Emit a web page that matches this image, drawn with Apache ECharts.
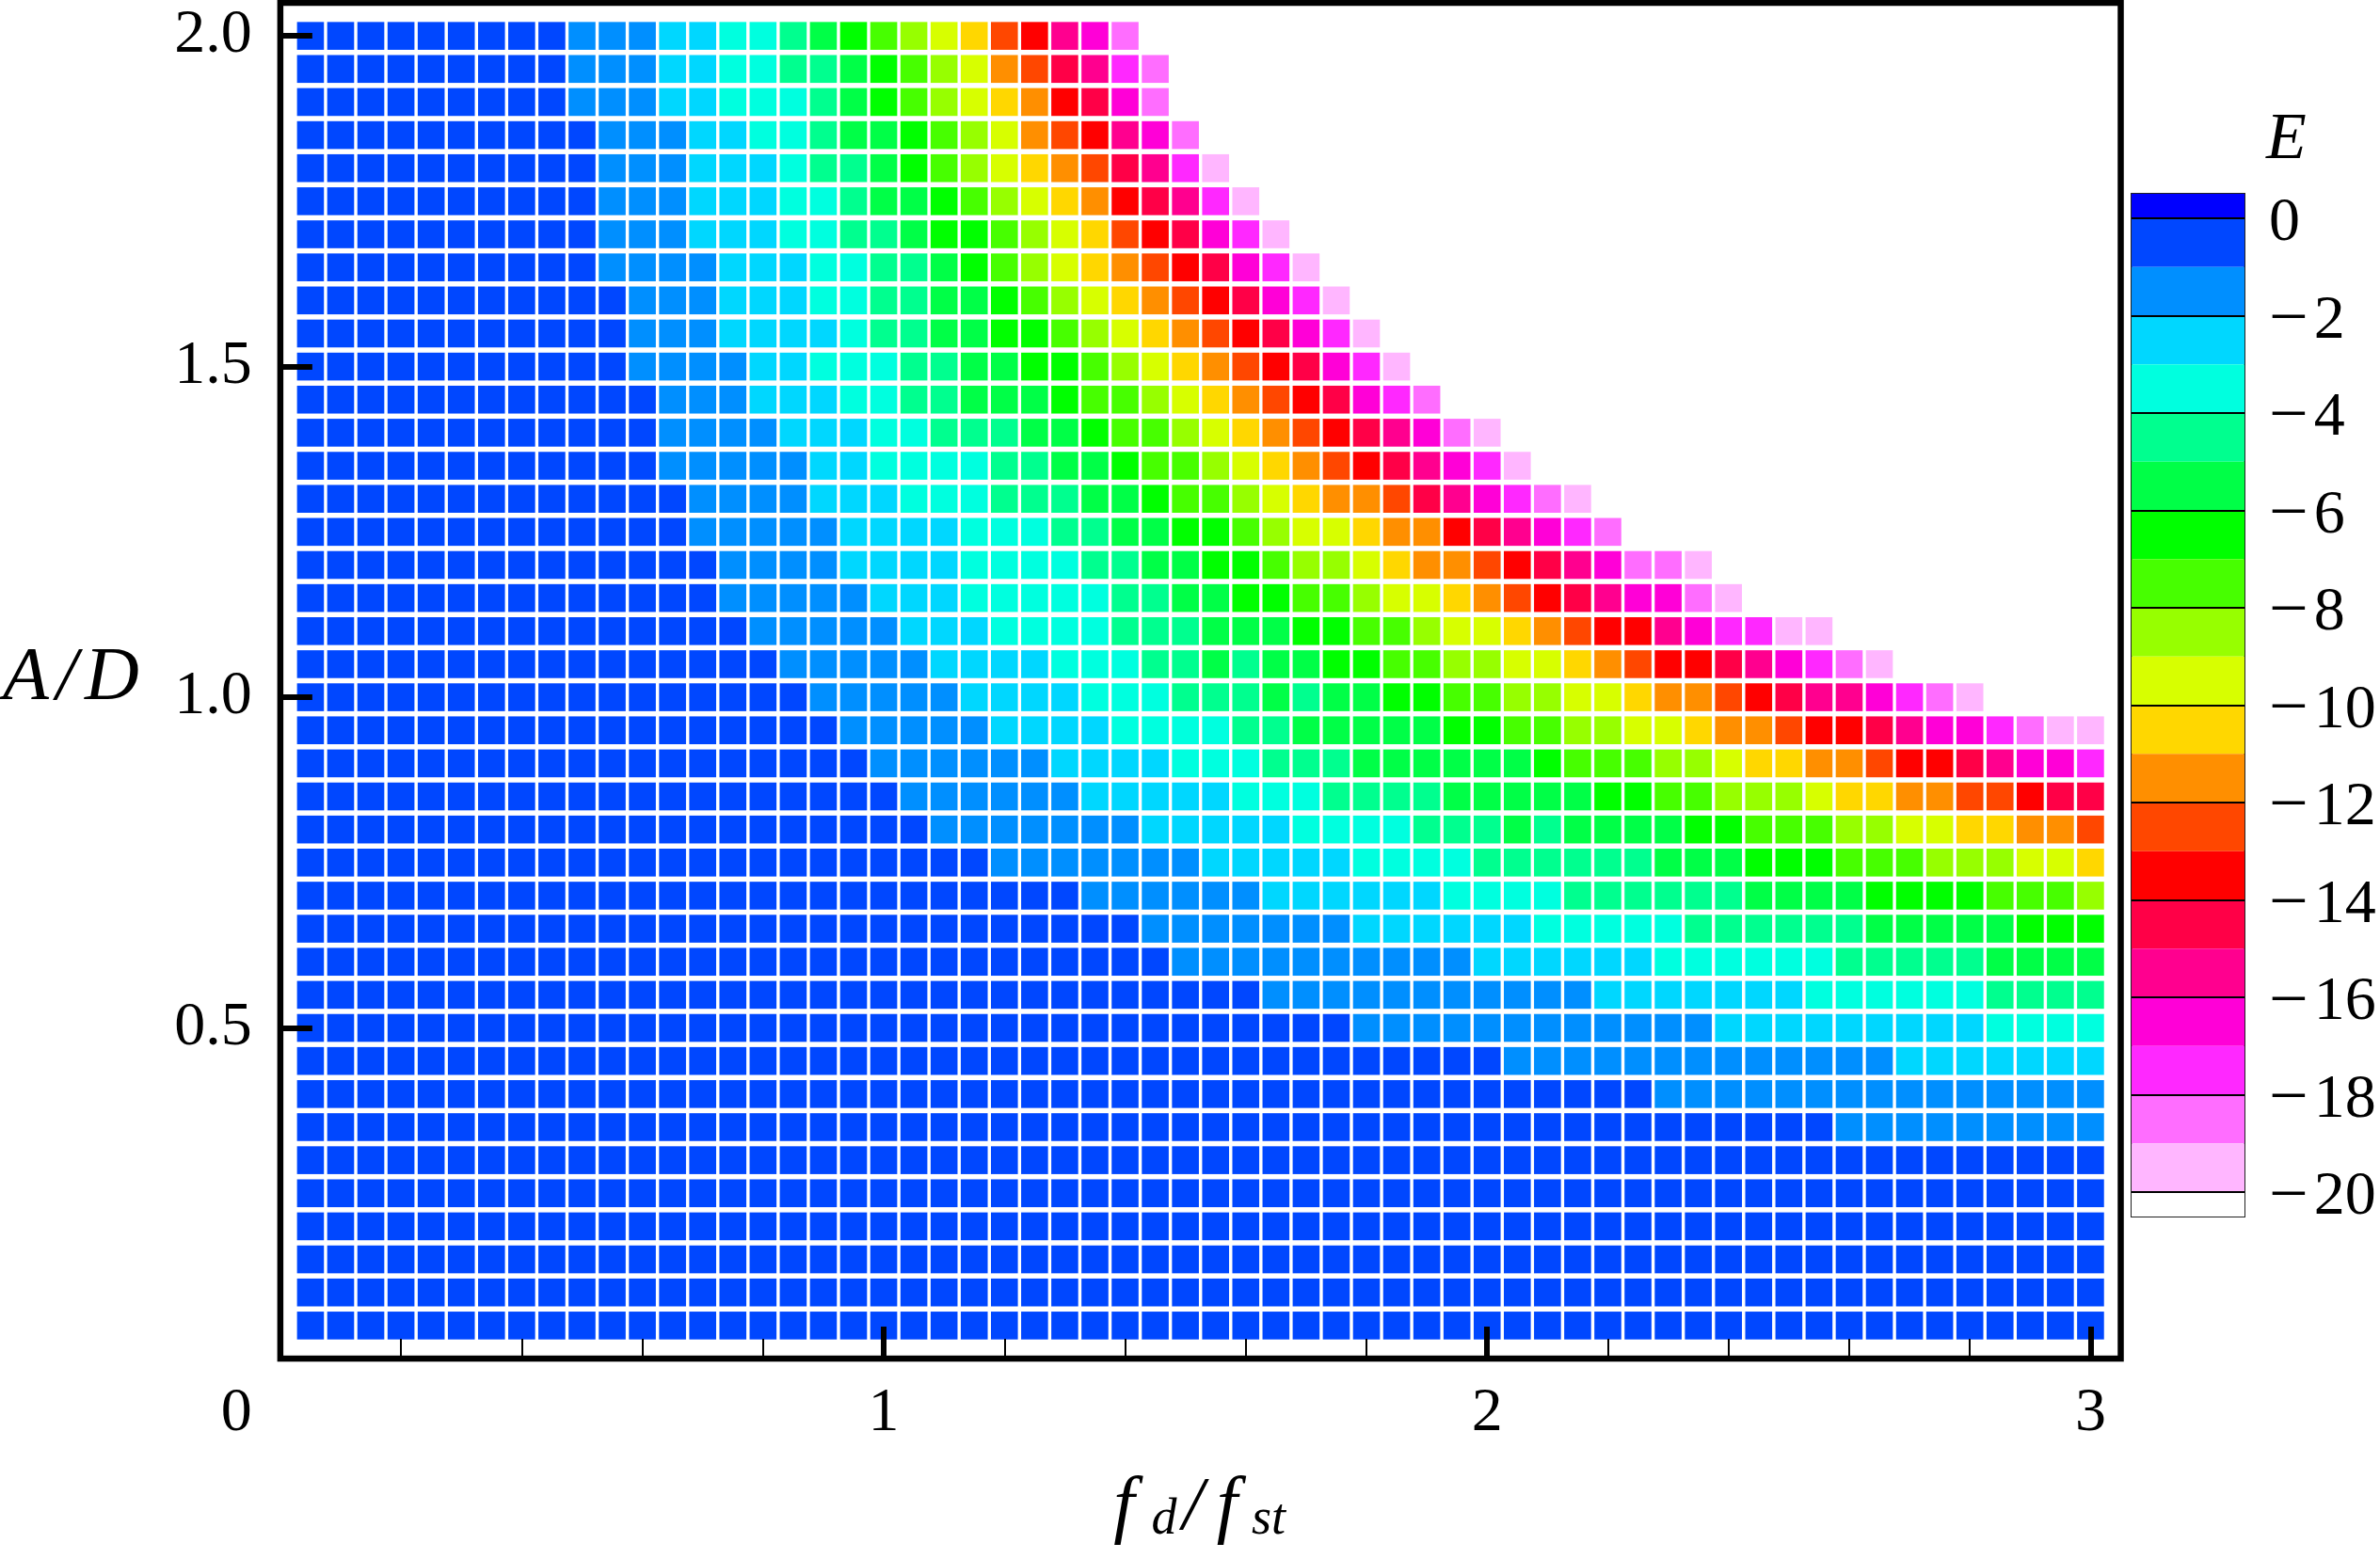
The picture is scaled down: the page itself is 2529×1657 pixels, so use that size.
<!DOCTYPE html>
<html>
<head>
<meta charset="utf-8">
<title>E over f_d/f_st and A/D</title>
<style>html,body{margin:0;padding:0;background:#fff}#chart{width:2529px;height:1657px}</style>
<script src="https://cdn.jsdelivr.net/npm/echarts@6/dist/echarts.min.js"></script>
</head>
<body>
<div id="chart"></div>
<script>
// Frequency ratio at each column of the map
const fdValues = [0.05,0.10,0.15,0.20,0.25,0.30,0.35,0.40,0.45,0.50,0.55,0.60,0.65,0.70,0.75,0.80,0.85,0.90,0.95,1.00,
1.05,1.10,1.15,1.20,1.25,1.30,1.35,1.40,1.45,1.50,1.55,1.60,1.65,1.70,1.75,1.80,1.85,1.90,1.95,2.00,
2.05,2.10,2.15,2.20,2.25,2.30,2.35,2.40,2.45,2.50,2.55,2.60,2.65,2.70,2.75,2.80,2.85,2.90,2.95,3.00];

// Amplitude ratio of each row, from top to bottom
const adValues = [2.00,1.95,1.90,1.85,1.80,1.75,1.70,1.65,1.60,1.55,1.50,1.45,1.40,1.35,1.30,1.25,1.20,1.15,1.10,1.05,
1.00,0.95,0.90,0.85,0.80,0.75,0.70,0.65,0.60,0.55,0.50,0.45,0.40,0.35,0.30,0.25,0.20,0.15,0.10,0.05];

// For each A/D, the colour band n of each cell (E lies between -n and -n+1)
const r200 = [1,1,1,1,1,1,1,1,1,2,2,2,3,3,4,4,5,6,7,8,9,10,11,13,14,16,17,19];
const r195 = [1,1,1,1,1,1,1,1,1,2,2,2,3,3,4,4,5,5,6,7,8,9,10,12,13,15,16,18,19];
const r190 = [1,1,1,1,1,1,1,1,1,2,2,2,3,3,4,4,4,5,6,7,8,9,10,11,12,14,15,17,19];
const r185 = [1,1,1,1,1,1,1,1,1,1,2,2,2,3,3,4,4,5,6,6,7,8,9,10,12,13,14,16,17,19];
const r180 = [1,1,1,1,1,1,1,1,1,1,2,2,2,3,3,3,4,5,5,6,7,8,9,10,11,12,13,15,16,18,20];
const r175 = [1,1,1,1,1,1,1,1,1,1,2,2,2,3,3,3,4,4,5,6,6,7,8,9,10,11,12,14,15,16,18,20];
const r170 = [1,1,1,1,1,1,1,1,1,1,2,2,2,3,3,3,4,4,5,5,6,7,7,8,9,10,11,13,14,15,17,18,20];
const r165 = [1,1,1,1,1,1,1,1,1,1,2,2,2,2,3,3,3,4,4,5,5,6,7,8,9,10,11,12,13,14,15,17,18,20];
const r160 = [1,1,1,1,1,1,1,1,1,1,1,2,2,2,3,3,3,4,4,5,5,6,6,7,8,9,10,11,12,13,14,15,17,18,20];
const r155 = [1,1,1,1,1,1,1,1,1,1,1,2,2,2,3,3,3,3,4,5,5,6,6,7,7,8,9,10,11,12,13,14,15,17,18,20];
const r150 = [1,1,1,1,1,1,1,1,1,1,1,2,2,2,2,3,3,4,4,4,5,5,6,6,7,7,8,9,10,11,12,13,14,15,17,18,20];
const r145 = [1,1,1,1,1,1,1,1,1,1,1,1,2,2,2,3,3,3,4,4,5,5,6,6,6,7,8,8,9,10,11,12,13,14,15,17,18,19];
const r140 = [1,1,1,1,1,1,1,1,1,1,1,1,2,2,2,2,3,3,3,4,4,5,5,5,6,6,7,8,8,9,10,11,12,13,14,15,16,17,19,20];
const r135 = [1,1,1,1,1,1,1,1,1,1,1,1,2,2,2,2,2,3,3,4,4,4,4,5,5,6,6,7,8,8,9,10,11,12,13,14,15,16,17,18,20];
const r130 = [1,1,1,1,1,1,1,1,1,1,1,1,1,2,2,2,2,3,3,3,4,4,4,5,5,5,6,6,7,8,8,9,10,11,12,12,13,15,16,17,18,19,20];
const r125 = [1,1,1,1,1,1,1,1,1,1,1,1,1,2,2,2,2,2,3,3,3,3,4,4,4,5,5,6,6,7,7,8,9,10,10,11,12,12,14,15,16,17,18,19];
const r120 = [1,1,1,1,1,1,1,1,1,1,1,1,1,1,2,2,2,2,3,3,3,3,4,4,4,4,5,5,6,6,7,7,8,9,9,10,11,12,12,13,14,15,16,17,19,19,20];
const r115 = [1,1,1,1,1,1,1,1,1,1,1,1,1,1,2,2,2,2,2,3,3,3,4,4,4,4,4,5,5,6,6,7,7,8,8,9,10,10,11,12,13,14,15,16,17,17,19,20];
const r110 = [1,1,1,1,1,1,1,1,1,1,1,1,1,1,1,2,2,2,2,2,3,3,3,4,4,4,4,5,5,5,6,6,6,7,7,8,8,9,10,10,11,12,13,14,14,16,17,18,18,20,20];
const r105 = [1,1,1,1,1,1,1,1,1,1,1,1,1,1,1,1,2,2,2,2,2,3,3,3,3,4,4,4,5,5,6,5,6,6,7,7,8,8,9,9,10,10,11,12,13,14,14,15,16,17,18,19,20];
const r100 = [1,1,1,1,1,1,1,1,1,1,1,1,1,1,1,1,1,2,2,2,2,2,3,3,3,3,4,4,4,5,5,5,6,5,6,6,7,7,8,8,9,9,10,10,11,12,12,13,14,15,16,16,17,18,19,20];
const r095 = [1,1,1,1,1,1,1,1,1,1,1,1,1,1,1,1,1,1,2,2,2,2,2,3,3,3,3,4,4,4,4,5,5,6,6,6,6,6,7,7,8,8,9,9,10,10,11,12,12,13,14,14,15,16,17,17,18,19,20,20];
const r090 = [1,1,1,1,1,1,1,1,1,1,1,1,1,1,1,1,1,1,1,2,2,2,2,2,2,3,3,3,3,4,4,4,5,5,5,6,6,6,6,6,6,7,8,8,8,9,9,10,11,11,12,12,13,14,14,15,16,17,17,18];
const r085 = [1,1,1,1,1,1,1,1,1,1,1,1,1,1,1,1,1,1,1,1,2,2,2,2,2,2,3,3,3,3,3,4,4,4,5,5,5,5,6,6,6,6,6,7,7,8,8,9,9,9,10,11,11,12,12,13,13,14,15,15];
const r080 = [1,1,1,1,1,1,1,1,1,1,1,1,1,1,1,1,1,1,1,1,1,2,2,2,2,2,2,2,3,3,3,3,3,4,4,4,4,5,5,5,6,5,6,6,6,6,7,7,8,8,8,9,9,10,10,11,11,12,12,13];
const r075 = [1,1,1,1,1,1,1,1,1,1,1,1,1,1,1,1,1,1,1,1,1,1,1,2,2,2,2,2,2,2,3,3,3,3,3,4,4,4,4,5,5,5,5,5,5,6,6,6,7,7,7,8,8,8,9,9,9,10,10,11];
const r070 = [1,1,1,1,1,1,1,1,1,1,1,1,1,1,1,1,1,1,1,1,1,1,1,1,1,1,2,2,2,2,2,2,3,3,3,3,3,3,4,4,4,4,5,5,5,5,5,5,6,6,6,6,7,7,7,7,8,8,8,9];
const r065 = [1,1,1,1,1,1,1,1,1,1,1,1,1,1,1,1,1,1,1,1,1,1,1,1,1,1,1,1,2,2,2,2,2,2,2,3,3,3,3,3,3,4,4,4,4,4,5,5,5,5,5,5,6,6,6,6,6,7,7,7];
const r060 = [1,1,1,1,1,1,1,1,1,1,1,1,1,1,1,1,1,1,1,1,1,1,1,1,1,1,1,1,1,2,2,2,2,2,2,2,2,2,2,3,3,3,3,3,3,4,4,4,4,4,4,5,5,5,5,5,6,6,6,6];
const r055 = [1,1,1,1,1,1,1,1,1,1,1,1,1,1,1,1,1,1,1,1,1,1,1,1,1,1,1,1,1,1,1,1,2,2,2,2,2,2,2,2,2,2,2,3,3,3,3,3,3,3,4,4,4,4,4,4,5,5,5,5];
const r050 = [1,1,1,1,1,1,1,1,1,1,1,1,1,1,1,1,1,1,1,1,1,1,1,1,1,1,1,1,1,1,1,1,1,1,1,2,2,2,2,2,2,2,2,2,2,2,2,3,3,3,3,3,3,3,3,3,4,4,4,4];
const r045 = [1,1,1,1,1,1,1,1,1,1,1,1,1,1,1,1,1,1,1,1,1,1,1,1,1,1,1,1,1,1,1,1,1,1,1,1,1,1,1,1,2,2,2,2,2,2,2,2,2,2,2,2,2,3,3,3,3,3,3,3];
const r040 = [1,1,1,1,1,1,1,1,1,1,1,1,1,1,1,1,1,1,1,1,1,1,1,1,1,1,1,1,1,1,1,1,1,1,1,1,1,1,1,1,1,1,1,1,1,2,2,2,2,2,2,2,2,2,2,2,2,2,2,2];
const r035 = [1,1,1,1,1,1,1,1,1,1,1,1,1,1,1,1,1,1,1,1,1,1,1,1,1,1,1,1,1,1,1,1,1,1,1,1,1,1,1,1,1,1,1,1,1,1,1,1,1,1,1,2,2,2,2,2,2,2,2,2];
const r030 = [1,1,1,1,1,1,1,1,1,1,1,1,1,1,1,1,1,1,1,1,1,1,1,1,1,1,1,1,1,1,1,1,1,1,1,1,1,1,1,1,1,1,1,1,1,1,1,1,1,1,1,1,1,1,1,1,1,1,1,1];
const r025 = [1,1,1,1,1,1,1,1,1,1,1,1,1,1,1,1,1,1,1,1,1,1,1,1,1,1,1,1,1,1,1,1,1,1,1,1,1,1,1,1,1,1,1,1,1,1,1,1,1,1,1,1,1,1,1,1,1,1,1,1];
const r020 = [1,1,1,1,1,1,1,1,1,1,1,1,1,1,1,1,1,1,1,1,1,1,1,1,1,1,1,1,1,1,1,1,1,1,1,1,1,1,1,1,1,1,1,1,1,1,1,1,1,1,1,1,1,1,1,1,1,1,1,1];
const r015 = [1,1,1,1,1,1,1,1,1,1,1,1,1,1,1,1,1,1,1,1,1,1,1,1,1,1,1,1,1,1,1,1,1,1,1,1,1,1,1,1,1,1,1,1,1,1,1,1,1,1,1,1,1,1,1,1,1,1,1,1];
const r010 = [1,1,1,1,1,1,1,1,1,1,1,1,1,1,1,1,1,1,1,1,1,1,1,1,1,1,1,1,1,1,1,1,1,1,1,1,1,1,1,1,1,1,1,1,1,1,1,1,1,1,1,1,1,1,1,1,1,1,1,1];
const r005 = [1,1,1,1,1,1,1,1,1,1,1,1,1,1,1,1,1,1,1,1,1,1,1,1,1,1,1,1,1,1,1,1,1,1,1,1,1,1,1,1,1,1,1,1,1,1,1,1,1,1,1,1,1,1,1,1,1,1,1,1];

const bandRows = [r200,r195,r190,r185,r180,r175,r170,r165,r160,r155,r150,r145,r140,r135,r130,r125,r120,r115,r110,r105,
r100,r095,r090,r085,r080,r075,r070,r065,r060,r055,r050,r045,r040,r035,r030,r025,r020,r015,r010,r005];

// Colour of band n (index n-1)
const bandColors = ['#0047ff','#008fff','#00d7ff','#00ffdf','#00ff8f','#00ff47','#00ff00','#47ff00','#97ff00','#d7ff00',
'#ffd700','#ff8f00','#ff4700','#ff0000','#ff0047','#ff008f','#ff00d7','#ff28ff','#ff6dff','#ffb6ff'];

// Colour bar: band edges in E, top to bottom, and their colours
const barEdges = [0.5,0,-1,-2,-3,-4,-5,-6,-7,-8,-9,-10,-11,-12,-13,-14,-15,-16,-17,-18,-19,-20,-20.5];
const barColors = ['#0000ff'].concat(bandColors, ['#ffffff']);

// Tick labels
const xMajorTicks = [0,1,2,3];
const xMinorTicks = [0.2,0.4,0.6,0.8,1.2,1.4,1.6,1.8,2.2,2.4,2.6,2.8];
const yTicks = [0.5,1.0,1.5,2.0];
const barTicks = [0,-2,-4,-6,-8,-10,-12,-14,-16,-18,-20];

const cells = [];
bandRows.forEach(function (row, i) {
  row.forEach(function (n, j) {
    cells.push([fdValues[j], adValues[i], -n + 0.5]);
  });
});
const barData = barColors.map(function (c, i) {
  return [barEdges[i], barEdges[i + 1], i];
});

const FONT = '"Liberation Serif", "Times New Roman", serif';
const gridBox = {left: 295.5, top: 3, width: 1958, height: 1441};
const barBox = {left: 2265, top: 206, width: 120, height: 1087};

const chart = echarts.init(document.getElementById('chart'), null, {renderer: 'canvas', devicePixelRatio: 1});
chart.setOption({
  animation: false,
  backgroundColor: '#fff',
  grid: [
    Object.assign({show: true, borderColor: '#000', borderWidth: 6.5, backgroundColor: 'transparent', containLabel: false}, gridBox),
    Object.assign({show: true, borderColor: '#222', borderWidth: 2, backgroundColor: 'transparent', containLabel: false}, barBox)
  ],
  xAxis: [
    {
      type: 'value', gridIndex: 0, min: 0, max: 3.05, position: 'bottom', z: 10,
      splitLine: {show: false},
      axisLine: {show: false},
      axisTick: {show: true, inside: true, length: 34, lineStyle: {color: '#000', width: 6}, customValues: xMajorTicks},
      axisLabel: {
        show: true, margin: 26, color: '#000', fontFamily: FONT, fontSize: 66,
        customValues: xMajorTicks, hideOverlap: false,
        formatter: function (v) { return v === 0 ? '{z|0}' : String(v); },
        rich: {z: {fontFamily: FONT, fontSize: 66, color: '#000', padding: [0, 93, 0, 0]}}
      },
      name: '{f|f}{s|d}{l|/}{g|f}{s|st}',
      nameLocation: 'middle',
      nameGap: 120,
      nameTextStyle: {
        rich: {
          f: {fontFamily: FONT, fontStyle: 'italic', fontSize: 80, color: '#000', padding: [0, 18, 0, 0]},
          g: {fontFamily: FONT, fontStyle: 'italic', fontSize: 80, color: '#000', padding: [0, 15, 0, 0]},
          l: {fontFamily: FONT, fontStyle: 'italic', fontSize: 80, color: '#000', padding: [0, 14, 0, 4]},
          s: {fontFamily: FONT, fontStyle: 'italic', fontSize: 54, color: '#000', padding: [24, 2, 0, 0]}
        }
      }
    },
    {
      type: 'value', gridIndex: 0, min: 0, max: 3.05, position: 'bottom', z: 10,
      splitLine: {show: false},
      axisLine: {show: false},
      axisLabel: {show: false},
      axisTick: {show: true, inside: true, length: 21, lineStyle: {color: '#000', width: 2}, customValues: xMinorTicks}
    },
    {
      type: 'value', gridIndex: 1, min: 0, max: 1, show: false
    }
  ],
  yAxis: [
    {
      type: 'value', gridIndex: 0, min: 0, max: 2.05, position: 'left', z: 10,
      splitLine: {show: false},
      axisLine: {show: false},
      axisTick: {show: true, inside: true, length: 34, lineStyle: {color: '#000', width: 6}, customValues: yTicks},
      axisLabel: {
        show: true, margin: 30, color: '#000', fontFamily: FONT, fontSize: 66,
        customValues: yTicks, hideOverlap: false,
        formatter: function (v) { return v.toFixed(1); }
      },
      name: '{a|A}{l|/}{a|D}',
      nameLocation: 'middle',
      nameRotate: 0,
      nameGap: 150,
      nameTextStyle: {
        padding: [0, 0, 4, 0],
        rich: {
          a: {fontFamily: FONT, fontStyle: 'italic', fontSize: 80, color: '#000'},
          l: {fontFamily: FONT, fontStyle: 'italic', fontSize: 80, color: '#000', padding: [0, 8, 0, 8]}
        }
      }
    },
    {
      type: 'value', gridIndex: 1, min: -20.5, max: 0.5, position: 'right', z: 10,
      splitLine: {show: false},
      axisLine: {show: false, onZero: false},
      axisTick: {show: true, inside: true, length: 120, lineStyle: {color: '#000', width: 2}, customValues: barTicks},
      axisLabel: {
        show: true, margin: 26, align: 'left', color: '#000', fontFamily: FONT, fontSize: 66,
        customValues: barTicks, hideOverlap: false,
        formatter: function (v) { return v === 0 ? '{d|0}' : '{m|\u2212}{d|' + Math.abs(v) + '}'; },
        rich: {
          d: {fontFamily: FONT, fontSize: 66, color: '#000', padding: [12, 0, 0, 0]},
          m: {fontFamily: FONT, fontSize: 74, color: '#000', padding: [12, 6, 0, 0]}
        }
      },
      name: 'E',
      nameLocation: 'end',
      nameGap: 21,
      nameTextStyle: {fontFamily: FONT, fontStyle: 'italic', fontSize: 70, color: '#000', align: 'left', padding: [0, 0, 0, 23]}
    }
  ],
  visualMap: {
    show: false, type: 'piecewise', dimension: 2, seriesIndex: 0,
    pieces: bandColors.map(function (c, i) { return {min: -(i + 1), max: -i, color: c}; })
  },
  series: [
    {
      type: 'scatter', xAxisIndex: 0, yAxisIndex: 0, z: 2,
      symbol: 'rect', symbolSize: [28.6, 29.6], large: false, progressive: 0, silent: true,
      itemStyle: {opacity: 1},
      data: cells
    },
    {
      type: 'custom', xAxisIndex: 2, yAxisIndex: 1, z: 2, silent: true,
      renderItem: function (params, api) {
        const a = api.coord([0, api.value(0)]);
        const b = api.coord([1, api.value(1)]);
        return {
          type: 'rect',
          shape: {x: a[0], y: a[1], width: b[0] - a[0], height: b[1] - a[1]},
          style: {fill: barColors[api.value(2)]}
        };
      },
      data: barData
    }
  ]
});
</script>
</body>
</html>
